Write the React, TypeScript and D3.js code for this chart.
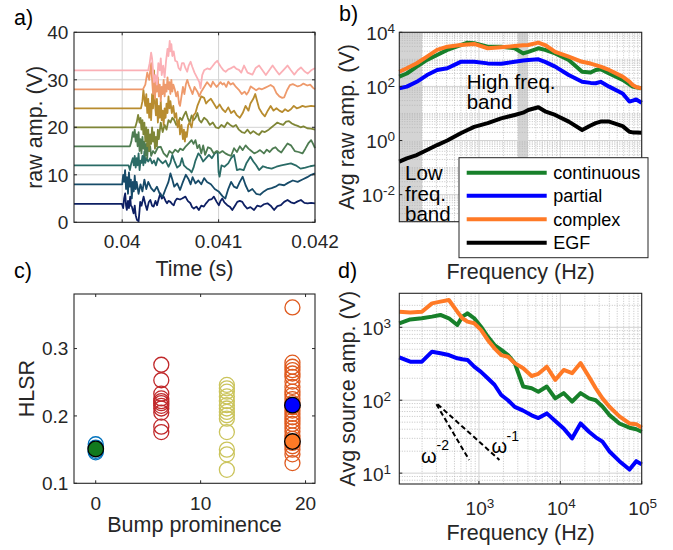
import React from 'react';
import * as d3 from 'd3';

const FONT = '"Liberation Sans", Arial, Helvetica, sans-serif';
const AXC = '#262626';
const GRID = '#d2d2d2';
const MINOR = '#b4b4b4';

// ---------------- panel a: raw traces (time in ms, amplitude in V)
const traceOffsets = [4, 8, 12, 16, 20, 24, 28, 32];
const traceColors = ['#0d1f63', '#174b69', '#2a6b66', '#4e7c52', '#7f8637', '#b88c2f', '#ee9a6c', '#fbb0b6'];

const trace04: [number, number][] = [[39.5,3.9],[39.997,3.9],[40.01,3],[40.02,5],[40.031,6.1],[40.04,3.5],[40.048,2.6],[40.06,4.5],[40.07,3],[40.083,5.4],[40.09,3.5],[40.1,3.3],[40.118,1.9],[40.13,3.5],[40.14,1.5],[40.153,0.5],[40.17,0.2],[40.18,2.5],[40.187,4.3],[40.2,3.5],[40.222,5.4],[40.24,3.8],[40.257,2.6],[40.275,4.2],[40.292,4.7],[40.31,3.5],[40.326,3.3],[40.345,4.5],[40.361,3.6],[40.38,5],[40.396,6.1],[40.41,5],[40.43,5.4],[40.45,4.5],[40.465,4.0],[40.48,4.5],[40.5,4.3],[40.52,3.8],[40.535,3.6],[40.55,4.5],[40.569,5.0],[40.6,4.8],[40.621,5.0],[40.656,5.4],[40.68,4.5],[40.708,4.0],[40.725,3.2],[40.743,2.9],[40.77,3.3],[40.795,2.6],[40.82,3.5],[40.847,3.3],[40.87,4],[40.899,4.7],[40.93,4.9],[40.951,5.4],[40.98,4.3],[41.003,3.6],[41.02,4.5],[41.038,5.0],[41.06,4.2],[41.09,3.6],[41.12,3.2],[41.142,2.6],[41.17,3.5],[41.194,4.3],[41.22,4.5],[41.246,4.3],[41.27,3.5],[41.298,2.9],[41.33,3.2],[41.368,2.6],[41.4,3.5],[41.437,3.3],[41.47,3.8],[41.507,4.0],[41.54,3.5],[41.576,2.6],[41.61,3.4],[41.646,3.6],[41.68,4.3],[41.715,4.7],[41.75,4.2],[41.785,4.0],[41.82,4.4],[41.854,4.7],[41.89,4.1],[41.923,4.0],[41.96,4.1],[42.0,4.0]];
const trace08: [number, number][] = [[39.5,8],[40.0,8],[40.01,10],[40.02,8.5],[40.03,11],[40.04,7],[40.05,9.5],[40.06,6],[40.07,10.5],[40.08,7.5],[40.09,9],[40.10,5],[40.11,8.5],[40.12,6.5],[40.13,9.8],[40.14,7],[40.15,8.5],[40.17,6],[40.19,8],[40.21,6.5],[40.23,9],[40.25,7],[40.27,8.5],[40.30,7.2],[40.33,6.5],[40.36,7.5],[40.39,6],[40.42,5.4],[40.45,7],[40.48,8.5],[40.5,10.3],[40.52,9],[40.54,7.5],[40.57,8.2],[40.6,6.8],[40.63,8.5],[40.66,10],[40.69,9],[40.71,8],[40.73,9.5],[40.76,8.2],[40.79,8.8],[40.82,8],[40.85,9.3],[40.88,8.5],[40.92,8],[40.96,7],[41.0,6.5],[41.04,5.5],[41.07,5],[41.1,7],[41.13,8.5],[41.16,7.5],[41.19,7.2],[41.22,8.5],[41.25,9.6],[41.28,7.8],[41.31,6.5],[41.35,7],[41.39,6],[41.43,5.8],[41.47,6.5],[41.51,7],[41.55,7.2],[41.59,7.5],[41.63,8],[41.68,7.8],[41.72,8.3],[41.77,8.8],[41.82,8.5],[41.87,9],[41.92,9.5],[41.96,10],[42.0,10.3]];
const trace12: [number, number][] = [[39.5,12],[40.066,12],[40.08,11],[40.095,12.5],[40.11,13.5],[40.12,12],[40.13,14],[40.14,11.5],[40.15,13.5],[40.16,12],[40.17,14.5],[40.18,11],[40.19,13],[40.20,12.5],[40.21,14],[40.22,12],[40.23,14.9],[40.24,12.5],[40.25,13.5],[40.27,12.8],[40.29,13.5],[40.31,12.4],[40.33,13],[40.35,12],[40.37,13.5],[40.40,12.8],[40.42,12.4],[40.45,13],[40.48,11.7],[40.50,12.5],[40.52,14.2],[40.54,13],[40.57,11.5],[40.60,12],[40.62,13.5],[40.64,12],[40.67,11.4],[40.70,11],[40.72,10.5],[40.74,11.5],[40.76,13],[40.79,14.5],[40.81,14],[40.84,12.8],[40.87,13.5],[40.9,14.2],[40.93,13.5],[40.96,14.5],[40.99,14.9],[41.0,10.5],[41.01,9.6],[41.03,12],[41.06,11.7],[41.1,12.4],[41.13,13.5],[41.16,14.2],[41.19,11],[41.22,11.2],[41.26,11],[41.29,12.5],[41.33,13.8],[41.36,12.8],[41.39,12],[41.42,11],[41.46,11.8],[41.5,11.5],[41.55,11.3],[41.6,11.7],[41.65,12],[41.7,12.2],[41.75,12.4],[41.8,12],[41.85,11.3],[41.9,11.5],[41.95,11.8],[42.0,12]];
const trace16: [number, number][] = [[39.5,16],[40.08,16],[40.095,17],[40.11,19],[40.12,18],[40.13,19.5],[40.14,17],[40.15,18.5],[40.16,16],[40.17,19],[40.18,15],[40.19,17.5],[40.20,14.5],[40.21,18],[40.22,15.5],[40.23,17],[40.24,14],[40.25,16.5],[40.26,13.5],[40.27,17],[40.28,15],[40.29,16],[40.30,14],[40.32,15],[40.34,14.5],[40.37,15.8],[40.40,15.9],[40.43,14.5],[40.465,13.8],[40.49,15],[40.52,14.5],[40.55,15.3],[40.58,14.8],[40.60,15.5],[40.63,15.2],[40.66,16],[40.69,16.6],[40.72,17.3],[40.74,16.5],[40.76,17.3],[40.78,15.6],[40.80,16.3],[40.82,14.5],[40.84,16.2],[40.86,14.2],[40.89,15.8],[40.92,15.5],[40.95,14.5],[40.98,15],[41.01,14.6],[41.04,15],[41.07,14.5],[41.1,14.2],[41.13,14],[41.16,15.6],[41.19,14.8],[41.22,16],[41.25,15.2],[41.28,16.2],[41.31,15.5],[41.34,15],[41.37,14.5],[41.40,14.8],[41.43,15.2],[41.47,14.5],[41.50,15.3],[41.53,14.8],[41.56,15.5],[41.59,15.8],[41.62,15.1],[41.65,14.7],[41.68,15.6],[41.715,16.6],[41.75,16.2],[41.79,15],[41.83,14.8],[41.87,14.5],[41.9,15.5],[41.93,16.6],[41.96,17.3],[41.98,16.5],[42.0,15.6]];
const trace20: [number, number][] = [[39.5,20],[40.135,20],[40.15,21],[40.165,22.6],[40.18,21],[40.19,22],[40.20,19.5],[40.21,21.5],[40.22,18.5],[40.23,21],[40.24,17],[40.25,20],[40.26,16],[40.27,19.5],[40.28,15],[40.29,18.5],[40.30,16.5],[40.31,20],[40.32,17],[40.33,19],[40.34,15.5],[40.35,18],[40.36,16],[40.37,19.5],[40.38,17.5],[40.40,21],[40.42,19],[40.44,20.5],[40.46,19.5],[40.48,21.5],[40.50,21],[40.52,22],[40.54,21.5],[40.56,20.5],[40.58,21],[40.60,22],[40.62,21.5],[40.64,22.5],[40.66,23.3],[40.68,22],[40.70,21],[40.72,22.5],[40.74,21.5],[40.76,22],[40.78,23],[40.80,21.5],[40.82,21],[40.85,22],[40.88,21.5],[40.91,20.5],[40.94,21],[40.97,20],[41.0,19.8],[41.03,20.5],[41.06,20],[41.09,21],[41.12,20.5],[41.15,20.1],[41.18,20.5],[41.21,19.5],[41.24,19],[41.27,18.8],[41.30,19.5],[41.33,18.7],[41.36,19.2],[41.40,18.6],[41.42,18.4],[41.45,19.2],[41.48,19],[41.52,19.5],[41.55,20],[41.58,20.5],[41.61,21],[41.64,20.7],[41.67,20.5],[41.70,21.2],[41.73,21.3],[41.76,20.8],[41.79,20.5],[41.82,20.3],[41.85,20],[41.88,20.2],[41.92,19.8],[41.96,19.7],[42.0,19.5]];
const trace24: [number, number][] = [[39.5,24],[40.195,24],[40.21,25.5],[40.22,27.9],[40.23,26],[40.24,24.5],[40.25,27],[40.26,23],[40.27,26],[40.28,22],[40.29,25],[40.30,21.5],[40.31,27],[40.32,24],[40.33,32],[40.34,25],[40.35,22.5],[40.36,26],[40.37,21],[40.38,24.5],[40.39,22],[40.40,25.5],[40.41,21.5],[40.42,23.5],[40.43,20.5],[40.44,24],[40.45,22],[40.46,25],[40.47,23],[40.48,26.5],[40.49,24],[40.50,25.5],[40.515,23],[40.53,24.5],[40.545,22],[40.56,23],[40.575,20],[40.59,21.5],[40.60,18.5],[40.615,20.5],[40.63,17.5],[40.64,19.5],[40.65,17],[40.66,19],[40.67,18],[40.685,20.5],[40.70,21],[40.72,20],[40.74,22.5],[40.76,23],[40.78,24.5],[40.80,25.5],[40.82,26.5],[40.85,26.2],[40.87,25],[40.89,25.5],[40.92,26],[40.95,25],[40.98,24],[41.01,24.8],[41.04,23.8],[41.07,23.2],[41.10,24.2],[41.13,23],[41.16,23.5],[41.19,22.5],[41.22,22],[41.25,23],[41.28,24.5],[41.31,23.5],[41.33,25],[41.36,26],[41.38,27],[41.40,25.5],[41.42,24],[41.45,23],[41.48,22.3],[41.51,23.5],[41.54,24.5],[41.57,23.5],[41.60,24],[41.63,23.5],[41.66,23.2],[41.69,23.8],[41.72,23.4],[41.75,23.8],[41.78,24.5],[41.81,24],[41.84,24.2],[41.87,24.5],[41.9,24.3],[41.93,24.4],[41.96,24.5],[42.0,24.4]];
const trace28: [number, number][] = [[39.5,28],[40.215,28],[40.24,29],[40.26,31.5],[40.28,30],[40.30,33.5],[40.31,30],[40.32,27],[40.33,31],[40.34,26],[40.35,29.5],[40.36,27.5],[40.37,30.5],[40.38,26.5],[40.39,29],[40.40,25.5],[40.41,28.5],[40.42,27],[40.43,30],[40.44,26.5],[40.45,29],[40.46,27.5],[40.47,30.5],[40.48,28],[40.49,29.5],[40.50,27],[40.51,30],[40.52,27.5],[40.53,29],[40.545,28],[40.56,26.5],[40.575,27.5],[40.59,25],[40.60,24.5],[40.615,26.5],[40.63,28.5],[40.645,27],[40.66,29],[40.675,30],[40.69,29],[40.71,28],[40.73,27],[40.75,28.5],[40.78,27.5],[40.80,26.5],[40.82,27.5],[40.85,28.5],[40.88,29.5],[40.90,29],[40.92,28.5],[40.94,29.6],[40.96,29],[40.98,28.5],[41.0,29],[41.02,29.5],[41.04,29],[41.056,29.3],[41.08,28.5],[41.10,29.6],[41.125,29],[41.15,29.3],[41.18,28.5],[41.21,27.9],[41.24,27],[41.27,27.5],[41.29,26.9],[41.31,27.5],[41.333,28.6],[41.36,28.2],[41.39,27.8],[41.42,28.2],[41.45,28],[41.48,28.3],[41.51,28.6],[41.54,28.9],[41.57,28.5],[41.60,27.2],[41.63,26.5],[41.66,26.2],[41.68,26.3],[41.71,27.8],[41.74,28.9],[41.77,29.1],[41.80,28.8],[41.82,28.6],[41.85,28.8],[41.88,29.2],[41.92,28.8],[41.95,29],[41.98,28.3],[42.0,28]];
const trace32: [number, number][] = [[39.5,32],[40.27,32],[40.285,33.5],[40.30,35.7],[40.31,34.5],[40.32,32],[40.33,29.5],[40.345,31],[40.36,29],[40.375,33.5],[40.39,32],[40.40,34.5],[40.41,31],[40.425,33],[40.44,30.5],[40.455,34],[40.47,36.5],[40.48,35],[40.493,38.2],[40.50,36],[40.51,37.5],[40.52,35],[40.534,36],[40.55,34],[40.57,33.8],[40.585,32.5],[40.604,32],[40.62,33.5],[40.639,33.5],[40.655,32.5],[40.674,31.7],[40.69,33],[40.71,33.8],[40.726,32.8],[40.75,31.5],[40.778,30.4],[40.80,29.5],[40.8125,28.2],[40.83,31],[40.85,32],[40.882,32.4],[40.91,32.2],[40.934,32.8],[40.96,33.5],[40.986,34],[41.0,33.5],[41.021,32.8],[41.05,32],[41.073,31.7],[41.10,32.2],[41.125,32.4],[41.159,32.8],[41.185,32.3],[41.211,32.1],[41.235,31.5],[41.264,33],[41.30,31.5],[41.351,31.1],[41.385,32.5],[41.42,33],[41.455,32],[41.49,31],[41.525,32],[41.56,33],[41.595,32],[41.628,31.1],[41.67,32],[41.715,33],[41.75,32],[41.785,31.1],[41.82,32],[41.854,32.6],[41.89,31.8],[41.924,31.3],[41.96,32],[41.993,32.4],[42.0,32.3]];
const traces = [trace04, trace08, trace12, trace16, trace20, trace24, trace28, trace32];
const aXTicks = [0.04, 0.041, 0.042];
const aXTickLabels = ['0.04', '0.041', '0.042'];
const aYTicks = [0, 10, 20, 30, 40];

// ---------------- panel b: average raw amplitude spectra
const bFreq = [105,130,172,230,306,408,597,723,873,1282,1875,2750,3490,4036,5370,6490,8650,12680,18540,23550,27180,31300,39800,58300,70600,77600,85500,100000];
const bContinuous = [230,300,540,955,1450,2240,3390,4150,3980,2950,2950,2570,1660,1900,2570,2240,1660,955,350,325,405,430,300,175,120,98,92,85];
const bPartial = [85,98,148,263,405,470,810,820,810,710,690,810,900,955,1000,810,540,263,148,135,131,148,98,55,27.5,30,33,25];
const bComplex = [350,470,715,1260,2240,2950,3390,3550,3720,2570,2790,3090,3300,3390,4170,3390,1900,1260,810,700,615,540,405,230,150,112,95,85];
const bEGF = [0.166,0.22,0.29,0.45,0.68,1.0,1.86,2.45,3.2,4.4,6.6,8.8,10.7,13.4,16.9,12,8.8,5.0,2.45,3.6,4.4,5.0,5.0,3.4,2.1,2.0,2.0,1.95];
const bBands: [number, number][] = [[105, 200], [3000, 4000]];
const bYTickExps = [-2, 0, 2, 4];
const legendNames = ['continuous', 'partial', 'complex', 'EGF'];
const seriesColors = ['#17802a', '#0000ff', '#ff7a26', '#000000'];

// ---------------- panel c: HLSR vs bump prominence
const cGroupX = [0, 6.25, 12.5, 18.75];
const cGroupColors = ['#0072bd', '#c0282a', '#cbc45c', '#df5a1e'];
const cGroup0 = [0.158, 0.153, 0.148, 0.146];
const cGroup1 = [0.276, 0.253, 0.233, 0.226, 0.222, 0.219, 0.215, 0.211, 0.205, 0.184, 0.176];
const cGroup2 = [0.246, 0.241, 0.236, 0.229, 0.222, 0.216, 0.211, 0.206, 0.201, 0.196, 0.176, 0.150, 0.143, 0.120];
const cGroup3 = [0.361, 0.279, 0.273, 0.268, 0.263, 0.258, 0.251, 0.243, 0.236, 0.231, 0.225, 0.219, 0.213, 0.208, 0.203, 0.198, 0.193, 0.188, 0.182, 0.177, 0.171, 0.166, 0.160, 0.155, 0.150, 0.143, 0.130];
const cGroups = [cGroup0, cGroup1, cGroup2, cGroup3];
const cFilled: { x: number; y: number; color: string }[] = [
  { x: 0, y: 0.151, color: '#127a1e' },
  { x: 18.75, y: 0.216, color: '#0000ff' },
  { x: 18.75, y: 0.162, color: '#ff7a26' },
];
const cXTicks = [0, 10, 20];
const cYTicks = [0.1, 0.2, 0.3];

// ---------------- panel d: average source spectra
const dFreq = [105,143,199,265,336,427,542,625,723,874,1059,1282,1552,1879,2274,2754,3497,4440,5375,6823,8664,11000,13964,17732,22500,27230,32960,39900,53200,70800,85700,100000];
const dContinuous = [1135,1280,1330,1400,1475,1330,1075,1400,1555,1330,1020,745,570,490,416,323,154,146,131,154,106,125,96,125,106,100,82,63,48,42,40,37];
const dPartial = [388,338,338,463,440,416,376,365,357,288,245,200,163,118,100,81,72,62,57,66,52,41,30,48,37,31,27,20,14.6,11.2,14.6,13.2];
const dComplex = [1636,1600,1636,2130,2250,2370,1636,1330,1195,1135,920,670,515,416,395,323,275,215,230,288,190,260,235,323,210,146,106,82,60,48,47,42];
const dSlopeLines: { f: [number, number]; v: [number, number] }[] = [
  { f: [300, 757], v: [88, 15.2] },
  { f: [310, 1786], v: [88, 15.2] },
];
const dXTickExps = [3, 4, 5];
const dYTickExps = [1, 2, 3];

// ---------------- layout
const PA = { x0: 74, x1: 315, y0: 32.3, y1: 222.3 };
const PB = { x0: 399.3, x1: 641.7, y0: 32.3, y1: 221.7 };
const PC = { x0: 74, x1: 315, y0: 294, y1: 483.3 };
const PD = { x0: 399.3, x1: 641.7, y0: 293.3, y1: 484 };

const TICK_FS = 19;
const LABEL_FS = 21.5;

function Box({ p }: { p: { x0: number; x1: number; y0: number; y1: number } }) {
  return <rect x={p.x0} y={p.y0} width={p.x1 - p.x0} height={p.y1 - p.y0} fill="none" stroke={AXC} strokeWidth={1.1} />;
}

function LogGrid({ p, xs, ys, xMajor, yMajor }: any) {
  const xt: number[] = xs.ticks();
  const yt: number[] = ys.ticks();
  const isMajX = (v: number) => xMajor.some((e: number) => Math.abs(Math.log10(v) - e) < 1e-6);
  const isMajY = (v: number) => yMajor.some((e: number) => Math.abs(Math.log10(v) - e) < 1e-6);
  return (
    <g>
      {xt.filter((v) => !isMajX(v)).map((v, i) => (
        <line key={'xm' + i} x1={xs(v)} x2={xs(v)} y1={p.y0} y2={p.y1} stroke={MINOR} strokeWidth={0.8} strokeDasharray="1 1.5" />
      ))}
      {yt.filter((v) => !isMajY(v)).map((v, i) => (
        <line key={'ym' + i} y1={ys(v)} y2={ys(v)} x1={p.x0} x2={p.x1} stroke={MINOR} strokeWidth={0.8} strokeDasharray="1 1.5" />
      ))}
      {xt.filter((v) => isMajX(v)).map((v, i) => (
        <line key={'xM' + i} x1={xs(v)} x2={xs(v)} y1={p.y0} y2={p.y1} stroke={GRID} strokeWidth={1} />
      ))}
      {yt.filter((v) => isMajY(v)).map((v, i) => (
        <line key={'yM' + i} y1={ys(v)} y2={ys(v)} x1={p.x0} x2={p.x1} stroke={GRID} strokeWidth={1} />
      ))}
    </g>
  );
}

function TicksLinear({ p, xs, ys, xt, yt, len = 3 }: any) {
  return (
    <g stroke={AXC} strokeWidth={1}>
      {xt.map((v: number, i: number) => (
        <g key={'x' + i}>
          <line x1={xs(v)} x2={xs(v)} y1={p.y1} y2={p.y1 - len} />
          <line x1={xs(v)} x2={xs(v)} y1={p.y0} y2={p.y0 + len} />
        </g>
      ))}
      {yt.map((v: number, i: number) => (
        <g key={'y' + i}>
          <line y1={ys(v)} y2={ys(v)} x1={p.x0} x2={p.x0 + len} />
          <line y1={ys(v)} y2={ys(v)} x1={p.x1} x2={p.x1 - len} />
        </g>
      ))}
    </g>
  );
}

function PowLabel({ x, y, exp, anchor }: { x: number; y: number; exp: number; anchor: string }) {
  return (
    <text x={x} y={y} textAnchor={anchor as any} fontSize={TICK_FS} fill={AXC}>
      <tspan>10</tspan>
      <tspan dy={-7} fontSize={13.5}>{String(exp)}</tspan>
    </text>
  );
}

export default function App() {
  const xA = d3.scaleLinear().domain([0.0395, 0.042]).range([PA.x0, PA.x1]);
  const yA = d3.scaleLinear().domain([0, 40]).range([PA.y1, PA.y0]);
  const xB = d3.scaleLog().domain([105, 1e5]).range([PB.x0, PB.x1]);
  const yB = d3.scaleLog().domain([1e-3, 1e4]).range([PB.y1, PB.y0]);
  const xC = d3.scaleLinear().domain([-2.07, 20.9]).range([PC.x0, PC.x1]);
  const yC = d3.scaleLinear().domain([0.1, 0.381]).range([PC.y1, PC.y0]);
  const xD = d3.scaleLog().domain([105, 1e5]).range([PD.x0, PD.x1]);
  const yD = d3.scaleLog().domain([7.1, 2925]).range([PD.y1, PD.y0]);

  const lineA = d3.line<[number, number]>().x((d) => xA(d[0] / 1000)).y((d) => yA(d[1]));
  const lineB = (vals: number[]) =>
    d3.line<number>().x((_, i) => xB(bFreq[i])).y((d) => yB(d))(vals) || '';
  const lineD = (vals: number[]) =>
    d3.line<number>().x((_, i) => xD(dFreq[i])).y((d) => yD(d))(vals) || '';

  const bSeries = [bContinuous, bPartial, bComplex, bEGF];
  const dSeries = [dContinuous, dPartial, dComplex];

  const legendYs = [172.7, 195.7, 219.3, 242.7];

  return (
    <div style={{ position: 'absolute', left: 0, top: 0 }}>
      <svg width={673} height={550} style={{ display: 'block', fontFamily: FONT }}>
        <rect x={0} y={0} width={673} height={550} fill="#ffffff" />

        {/* ===================== panel a ===================== */}
        <g>
          {aXTicks.map((t, i) => (
            <line key={'ga' + i} x1={xA(t)} x2={xA(t)} y1={PA.y0} y2={PA.y1} stroke={GRID} strokeWidth={1} />
          ))}
          {aYTicks.map((t, i) => (
            <line key={'gya' + i} y1={yA(t)} y2={yA(t)} x1={PA.x0} x2={PA.x1} stroke={GRID} strokeWidth={1} />
          ))}
          {traces.map((tr, i) => (
            <path key={'tr' + i} d={lineA(tr) || ''} fill="none" stroke={traceColors[i]} strokeWidth={1.8} strokeLinejoin="round" />
          ))}
          <Box p={PA} />
          <TicksLinear p={PA} xs={xA} ys={yA} xt={aXTicks} yt={aYTicks} />
          {aXTicks.map((t, i) => (
            <text key={'xla' + i} x={xA(t)} y={248} textAnchor="middle" fontSize={TICK_FS} fill={AXC}>{aXTickLabels[i]}</text>
          ))}
          {aYTicks.map((t, i) => (
            <text key={'yla' + i} x={68.3} y={yA(t) + 6.8} textAnchor="end" fontSize={TICK_FS} fill={AXC}>{String(t)}</text>
          ))}
          <text x={(PA.x0 + PA.x1) / 2} y={276} textAnchor="middle" fontSize={LABEL_FS} fill={AXC}>Time (s)</text>
          <text transform={`translate(41.5,${(PA.y0 + PA.y1) / 2}) rotate(-90)`} textAnchor="middle" fontSize={LABEL_FS} fill={AXC}>raw amp. (V)</text>
          <text x={14} y={24.5} fontSize={LABEL_FS} fill="#000">a)</text>
        </g>

        {/* ===================== panel b ===================== */}
        <g>
          {bBands.map((bd, i) => (
            <rect key={'band' + i} x={xB(bd[0])} y={PB.y0} width={xB(bd[1]) - xB(bd[0])} height={PB.y1 - PB.y0} fill="#000" opacity={0.17} />
          ))}
          <LogGrid p={PB} xs={xB} ys={yB} xMajor={[3, 4, 5]} yMajor={bYTickExps} />
          {bSeries.map((s, i) => (
            <path key={'bs' + i} d={lineB(s)} fill="none" stroke={seriesColors[i]} strokeWidth={4} strokeLinejoin="round" />
          ))}
          <Box p={PB} />
          <g stroke={AXC} strokeWidth={1}>
            {dXTickExps.map((e, i) => (
              <line key={'bxt' + i} x1={xB(Math.pow(10, e))} x2={xB(Math.pow(10, e))} y1={PB.y1} y2={PB.y1 - 3} />
            ))}
            {bYTickExps.map((e, i) => (
              <line key={'byt' + i} x1={PB.x0} x2={PB.x0 + 3} y1={yB(Math.pow(10, e))} y2={yB(Math.pow(10, e))} />
            ))}
          </g>
          {bYTickExps.map((e, i) => (
            <PowLabel key={'byl' + i} x={395} y={yB(Math.pow(10, e)) + 7.5} exp={e} anchor="end" />
          ))}
          <text x={466.7} y={88.7} fontSize={20.5} fill="#000">High freq.</text>
          <text x={466.7} y={109.3} fontSize={20.5} fill="#000">band</text>
          <text x={405} y={180} fontSize={20.5} fill="#000">Low</text>
          <text x={405} y={200.5} fontSize={20.5} fill="#000">freq.</text>
          <text x={405} y={220.5} fontSize={20.5} fill="#000">band</text>
          {/* legend */}
          <rect x={459} y={157.7} width={189} height={100} fill="#ffffff" stroke={AXC} strokeWidth={1} />
          {legendNames.map((n, i) => (
            <g key={'lg' + i}>
              <line x1={466.7} x2={546.7} y1={legendYs[i]} y2={legendYs[i]} stroke={seriesColors[i]} strokeWidth={4} />
              <text x={553.3} y={legendYs[i] + 6.3} fontSize={18} fill="#000">{n}</text>
            </g>
          ))}
          <text x={(PB.x0 + PB.x1) / 2} y={279} textAnchor="middle" fontSize={LABEL_FS} fill={AXC}>Frequency (Hz)</text>
          <text transform={`translate(354,${(PB.y0 + PB.y1) / 2}) rotate(-90)`} textAnchor="middle" fontSize={LABEL_FS} fill={AXC}>Avg raw amp. (V)</text>
          <text x={339} y={20.5} fontSize={LABEL_FS} fill="#000">b)</text>
        </g>

        {/* ===================== panel c ===================== */}
        <g>
          {cGroups.map((g, gi) =>
            g.map((v, i) => (
              <circle key={'c' + gi + '_' + i} cx={xC(cGroupX[gi])} cy={yC(v)} r={7.5} fill="none" stroke={cGroupColors[gi]} strokeWidth={1.3} />
            ))
          )}
          {cFilled.map((f, i) => (
            <circle key={'cf' + i} cx={xC(f.x)} cy={yC(f.y)} r={7.8} fill={f.color} stroke="#000" strokeWidth={1.3} />
          ))}
          <Box p={PC} />
          <TicksLinear p={PC} xs={xC} ys={yC} xt={cXTicks} yt={cYTicks} />
          {cXTicks.map((t, i) => (
            <text key={'xlc' + i} x={xC(t)} y={510} textAnchor="middle" fontSize={TICK_FS} fill={AXC}>{String(t)}</text>
          ))}
          {cYTicks.map((t, i) => (
            <text key={'ylc' + i} x={68.3} y={yC(t) + 6.8} textAnchor="end" fontSize={TICK_FS} fill={AXC}>{t.toFixed(1)}</text>
          ))}
          <text x={(PC.x0 + PC.x1) / 2} y={532} textAnchor="middle" fontSize={LABEL_FS} fill={AXC}>Bump prominence</text>
          <text transform={`translate(33.5,${(PC.y0 + PC.y1) / 2}) rotate(-90)`} textAnchor="middle" fontSize={LABEL_FS} fill={AXC}>HLSR</text>
          <text x={14} y={278} fontSize={LABEL_FS} fill="#000">c)</text>
        </g>

        {/* ===================== panel d ===================== */}
        <g>
          <LogGrid p={PD} xs={xD} ys={yD} xMajor={dXTickExps} yMajor={dYTickExps} />
          {dSeries.map((s, i) => (
            <path key={'ds' + i} d={lineD(s)} fill="none" stroke={seriesColors[i]} strokeWidth={4} strokeLinejoin="round" />
          ))}
          {dSlopeLines.map((l, i) => (
            <line key={'sl' + i} x1={xD(l.f[0])} y1={yD(l.v[0])} x2={xD(l.f[1])} y2={yD(l.v[1])} stroke="#000" strokeWidth={2} strokeDasharray="5 3" />
          ))}
          <text x={421} y={463} fontSize={20} fill="#000">ω</text>
          <text x={436.5} y={450} fontSize={14} fill="#000">-2</text>
          <text x={491.5} y={453} fontSize={20} fill="#000">ω</text>
          <text x={506.5} y={441} fontSize={14} fill="#000">-1</text>
          <Box p={PD} />
          <g stroke={AXC} strokeWidth={1}>
            {dXTickExps.map((e, i) => (
              <line key={'dxt' + i} x1={xD(Math.pow(10, e))} x2={xD(Math.pow(10, e))} y1={PD.y1} y2={PD.y1 - 3} />
            ))}
            {dYTickExps.map((e, i) => (
              <line key={'dyt' + i} x1={PD.x0} x2={PD.x0 + 3} y1={yD(Math.pow(10, e))} y2={yD(Math.pow(10, e))} />
            ))}
          </g>
          {dXTickExps.map((e, i) => (
            <PowLabel key={'dxl' + i} x={xD(Math.pow(10, e)) + 1} y={515} exp={e} anchor="middle" />
          ))}
          {dYTickExps.map((e, i) => (
            <PowLabel key={'dyl' + i} x={391} y={yD(Math.pow(10, e)) + 8} exp={e} anchor="end" />
          ))}
          <text x={(PD.x0 + PD.x1) / 2} y={540} textAnchor="middle" fontSize={LABEL_FS} fill={AXC}>Frequency (Hz)</text>
          <text transform={`translate(355,${(PD.y0 + PD.y1) / 2}) rotate(-90)`} textAnchor="middle" fontSize={LABEL_FS} fill={AXC}>Avg source amp. (V)</text>
          <text x={338} y={278} fontSize={LABEL_FS} fill="#000">d)</text>
        </g>
      </svg>
    </div>
  );
}
